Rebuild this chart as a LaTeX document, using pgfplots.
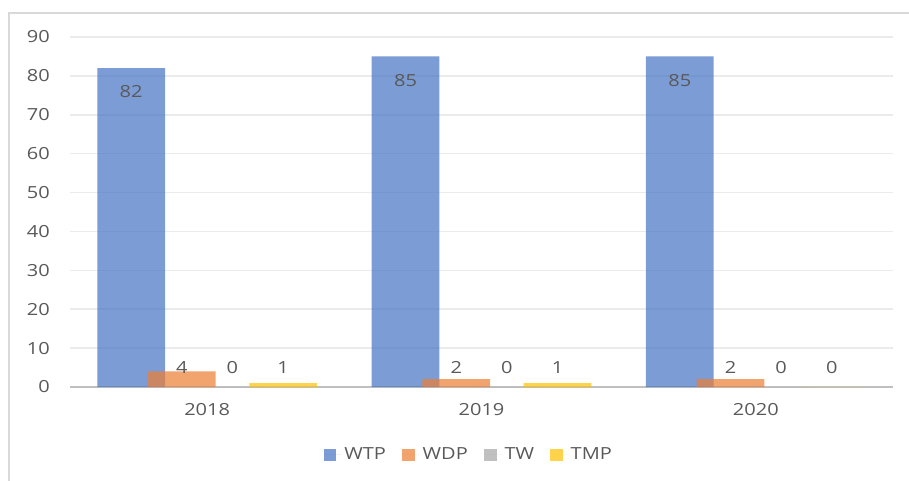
\documentclass[border=0pt]{standalone}
\usepackage{fontspec}
\setmainfont{Open Sans}[FakeStretch=1.2]
\usepackage{pgfplots}
\pgfplotsset{compat=1.18}
\definecolor{txt}{HTML}{595959}
\definecolor{frm}{HTML}{D9D9D9}
\definecolor{grd}{HTML}{EBEBEB}
\definecolor{axl}{HTML}{BFBFBF}
\definecolor{cWTP}{HTML}{4472C4}
\definecolor{cWDP}{HTML}{ED7D31}
\definecolor{cTW}{HTML}{A5A5A5}
\definecolor{cTMP}{HTML}{FFC000}
\newcommand{\lblfont}{\fontsize{12.5}{14}\selectfont}
\begin{document}
\begin{tikzpicture}[x=1pt,y=1pt]
\useasboundingbox (0,0) rectangle (681.75,-360);
\draw[color=frm, line width=1.5pt] (6.75,-362) -- (6.75,-9.75) -- (684,-9.75);
\begin{axis}[
  at={(52.5pt,-290.25pt)}, anchor=south west,
  scale only axis, width=617.25pt, height=262.5pt,
  xmin=-0.5, xmax=2.5, ymin=0, ymax=90,
  ytick={0,10,...,90},
  xtick={0,1,2}, xticklabels={2018,2019,2020},
  axis lines*=left,
  x axis line style={draw=axl, line width=1.8pt},
  y axis line style={draw=none},
  major tick length=0pt,
  ymajorgrids, grid style={draw=grd, line width=1.2pt},
  /pgf/number format/assume math mode=true,
  tick label style={font=\lblfont, text=txt, inner sep=0pt},
  yticklabel style={anchor=east, xshift=-15pt},
  xticklabel style={anchor=north, yshift=-12pt},
  legend columns=4,
  legend style={at={(0.485,-0.194)}, anchor=center, draw=none, fill=none,
    font=\lblfont, text=txt,
    /tikz/every even column/.append style={column sep=10pt}},
  legend image code/.code={\fill[#1, draw=none] (0pt,-4.5pt) rectangle (9.5pt,4.5pt); \path (0pt,0pt) -- (13.5pt,0pt);},
  clip=false,
  every axis plot/.append style={draw=none, draw opacity=0, line width=0pt},
]
\addplot[ybar, bar width=50.8pt, bar shift=-57pt, fill=cWTP, fill opacity=0.7, draw=none]
  coordinates {(0,82) (1,85) (2,85)};
\addlegendentry{WTP}
\addplot[ybar, bar width=50.8pt, bar shift=-19pt, fill=cWDP, fill opacity=0.7, draw=none]
  coordinates {(0,4) (1,2) (2,2)};
\addlegendentry{WDP}
\addplot[ybar, bar width=50.8pt, bar shift=19pt, fill=cTW, fill opacity=0.7, draw=none]
  coordinates {(0,0) (1,0) (2,0)};
\addlegendentry{TW}
\addplot[ybar, bar width=50.8pt, bar shift=57pt, fill=cTMP, fill opacity=0.7, draw=none]
  coordinates {(0,1) (1,1) (2,0)};
\addlegendentry{TMP}
\addplot[draw=none, mark=none, forget plot, nodes near coords,
  point meta=explicit symbolic,
  every node near coord/.style={anchor=center, font=\lblfont, text=txt, inner sep=0pt}]
  coordinates {
  (-0.277,75.9) [82] (-0.092,5.1) [4] (0.092,5.1) [0] (0.277,5.1) [1]
  (0.723,78.9) [85] (0.908,5.1) [2] (1.092,5.1) [0] (1.277,5.1) [1]
  (1.723,78.9) [85] (1.908,5.1) [2] (2.092,5.1) [0] (2.277,5.1) [0]
  };
\end{axis}
\end{tikzpicture}
\end{document}
